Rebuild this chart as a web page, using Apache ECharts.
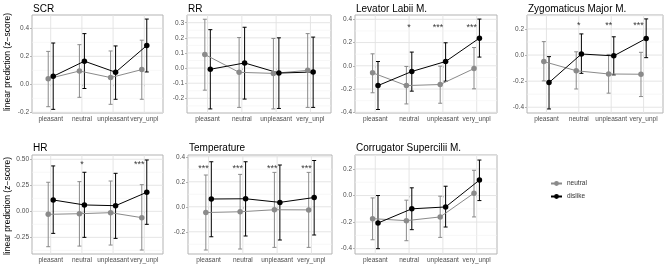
<!DOCTYPE html>
<html>
<head>
<meta charset="utf-8">
<script src="https://cdn.jsdelivr.net/npm/echarts@6/dist/echarts.min.js"></script>
<style>
html, body { margin: 0; padding: 0; background: #fff; }
#main { width: 669px; height: 266px; }
</style>
</head>
<body>
<div id="main"></div>
<script>
var conditions = ['pleasant', 'neutral', 'unpleasant', 'very_unpl'];

// [mean, lower, upper] for each condition
var scrNeutral = [[0.040, -0.160, 0.235], [0.095, -0.093, 0.283], [0.048, -0.143, 0.238], [0.105, -0.107, 0.315]];
var scrDislike = [[0.057, -0.179, 0.295], [0.165, -0.030, 0.362], [0.086, -0.107, 0.274], [0.277, 0.088, 0.466]];
var rrNeutral = [[0.090, -0.146, 0.323], [-0.028, -0.260, 0.202], [-0.035, -0.270, 0.196], [-0.015, -0.260, 0.228]];
var rrDislike = [[-0.008, -0.270, 0.254], [0.034, -0.205, 0.270], [-0.033, -0.267, 0.200], [-0.026, -0.260, 0.205]];
var levNeutral = [[-0.060, -0.232, 0.103], [-0.170, -0.328, -0.006], [-0.161, -0.322, -0.003], [-0.024, -0.198, 0.157]];
var levDislike = [[-0.170, -0.376, 0.037], [-0.049, -0.218, 0.118], [0.037, -0.132, 0.198], [0.238, 0.075, 0.402]];
var zygNeutral = [[-0.050, -0.198, 0.103], [-0.120, -0.260, 0.025], [-0.145, -0.292, 0.005], [-0.147, -0.318, 0.021]];
var zygDislike = [[-0.211, -0.413, -0.012], [0.008, -0.140, 0.162], [-0.006, -0.152, 0.140], [0.127, -0.020, 0.277]];
var hrNeutral = [[-0.029, -0.340, 0.279], [-0.023, -0.334, 0.285], [-0.013, -0.324, 0.291], [-0.061, -0.372, 0.256]];
var hrDislike = [[0.109, -0.212, 0.436], [0.061, -0.250, 0.375], [0.054, -0.260, 0.365], [0.183, -0.125, 0.493]];
var tempNeutral = [[-0.046, -0.346, 0.254], [-0.040, -0.338, 0.259], [-0.024, -0.325, 0.275], [-0.025, -0.325, 0.275]];
var tempDislike = [[0.062, -0.240, 0.360], [0.064, -0.234, 0.360], [0.035, -0.266, 0.334], [0.074, -0.226, 0.370]];
var corNeutral = [[-0.174, -0.333, -0.018], [-0.189, -0.340, -0.035], [-0.161, -0.315, -0.005], [0.018, -0.161, 0.190]];
var corDislike = [[-0.207, -0.400, 0.000], [-0.100, -0.257, 0.058], [-0.086, -0.237, 0.070], [0.116, -0.038, 0.267]];

// significance marks
var levStars = ['', '*', '***', '***'];
var zygStars = ['', '*', '**', '***'];
var hrStars = ['', '*', '', '***'];
var tempStars = ['***', '***', '***', '***'];

// y tick labels
var scrTicks = [-0.2, 0, 0.2, 0.4];
var rrTicks = [-0.2, -0.1, 0, 0.1, 0.2, 0.3];
var levTicks = [-0.4, -0.2, 0, 0.2, 0.4];
var zygTicks = [-0.4, -0.2, 0, 0.2];
var hrTicks = [-0.25, 0, 0.25, 0.5];
var tempTicks = [-0.2, 0, 0.2, 0.4];
var corTicks = [-0.4, -0.2, 0, 0.2];

var panels = [
    { title: 'SCR', neutral: scrNeutral, dislike: scrDislike, ticks: scrTicks, dec: 1, stars: null, starY: 0 },
    { title: 'RR', neutral: rrNeutral, dislike: rrDislike, ticks: rrTicks, dec: 1, stars: null, starY: 0 },
    { title: 'Levator Labii M.', neutral: levNeutral, dislike: levDislike, ticks: levTicks, dec: 1, stars: levStars, starY: 0.34 },
    { title: 'Zygomaticus Major M.', neutral: zygNeutral, dislike: zygDislike, ticks: zygTicks, dec: 1, stars: zygStars, starY: 0.238 },
    { title: 'HR', neutral: hrNeutral, dislike: hrDislike, ticks: hrTicks, dec: 2, stars: hrStars, starY: 0.46 },
    { title: 'Temperature', neutral: tempNeutral, dislike: tempDislike, ticks: tempTicks, dec: 1, stars: tempStars, starY: 0.315 },
    { title: 'Corrugator Supercilii M.', neutral: corNeutral, dislike: corDislike, ticks: corTicks, dec: 1, stars: null, starY: 0 }
];

// layout: [left, top, width, height], y range, title y
var layout = [
    { box: [32, 15, 131, 98], range: [-0.205, 0.495], titleY: 9.5 },
    { box: [187, 15, 144, 98], range: [-0.297, 0.351], titleY: 9.5 },
    { box: [355, 15, 142, 98], range: [-0.406, 0.437], titleY: 9.5 },
    { box: [527, 15, 136, 98], range: [-0.444, 0.307], titleY: 9.5 },
    { box: [32, 155, 131, 99], range: [-0.41, 0.541], titleY: 148 },
    { box: [188, 155, 144, 99], range: [-0.378, 0.414], titleY: 148 },
    { box: [355, 155, 142, 99], range: [-0.44, 0.305], titleY: 148 }
];

var FONT = "'Liberation Sans', Arial, sans-serif";
var GRAY = '#8a8a8a';
var BLACK = '#000000';
var DODGE = 0.08;
var xTicks = [1, 2, 3, 4];

function gridLineItem(params, api) {
    var cs = params.coordSys;
    var kind = api.value(0), v = api.value(1), major = api.value(2);
    var shape;
    if (kind === 0) {
        var x = api.coord([v, 0])[0];
        shape = { x1: x, y1: cs.y, x2: x, y2: cs.y + cs.height };
    } else {
        var y = api.coord([1, v])[1];
        shape = { x1: cs.x, y1: y, x2: cs.x + cs.width, y2: y };
    }
    return {
        type: 'line', shape: shape,
        style: { stroke: major ? '#e2e2e2' : '#f1f1f1', lineWidth: major ? 0.9 : 0.6 }
    };
}

function errorBarItem(color) {
    return function (params, api) {
        var x = api.value(0);
        var t = api.coord([x, api.value(2)]);
        var b = api.coord([x, api.value(1)]);
        var w = 2;
        var st = { stroke: color, lineWidth: 1 };
        return {
            type: 'group',
            children: [
                { type: 'line', shape: { x1: t[0], y1: t[1], x2: b[0], y2: b[1] }, style: st },
                { type: 'line', shape: { x1: t[0] - w, y1: t[1], x2: t[0] + w, y2: t[1] }, style: st },
                { type: 'line', shape: { x1: b[0] - w, y1: b[1], x2: b[0] + w, y2: b[1] }, style: st }
            ]
        };
    };
}

var grids = [], xAxes = [], yAxes = [], series = [], graphics = [];

panels.forEach(function (p, i) {
    var L = layout[i];
    grids.push({
        left: L.box[0], top: L.box[1], width: L.box[2], height: L.box[3],
        show: true, borderColor: '#b3b3b3', borderWidth: 1, backgroundColor: '#fff'
    });
    xAxes.push({
        gridIndex: i, type: 'value', min: 0.4, max: 4.6,
        axisLine: { show: false }, splitLine: { show: false },
        axisTick: { show: true, customValues: xTicks, length: 2, lineStyle: { color: '#b3b3b3' } },
        axisLabel: {
            customValues: xTicks, margin: 3, fontSize: 6.5, color: '#4d4d4d', fontFamily: FONT,
            formatter: function (v) { return conditions[Math.round(v) - 1]; }
        }
    });
    yAxes.push({
        gridIndex: i, type: 'value', min: L.range[0], max: L.range[1],
        axisLine: { show: false }, splitLine: { show: false },
        axisTick: { show: true, customValues: p.ticks, length: 2, lineStyle: { color: '#b3b3b3' } },
        axisLabel: {
            customValues: p.ticks, margin: 3, fontSize: 6.5, color: '#4d4d4d', fontFamily: FONT,
            formatter: function (v) { return v.toFixed(p.dec); }
        }
    });

    // panel grid lines (major at ticks, minor half way)
    var gl = [];
    xTicks.forEach(function (v) { gl.push([0, v, 1]); });
    p.ticks.forEach(function (v) { gl.push([1, v, 1]); });
    var step = p.ticks[1] - p.ticks[0];
    for (var m = p.ticks[0] - step / 2; m < L.range[1]; m += step) {
        if (m > L.range[0]) gl.push([1, m, 0]);
    }
    series.push({
        type: 'custom', xAxisIndex: i, yAxisIndex: i, z: 1, silent: true,
        renderItem: gridLineItem, data: gl
    });

    [['neutral', p.neutral, GRAY, -DODGE], ['dislike', p.dislike, BLACK, DODGE]].forEach(function (s) {
        series.push({
            type: 'custom', name: s[0] + ' err', xAxisIndex: i, yAxisIndex: i, z: 2, silent: true,
            renderItem: errorBarItem(s[2]),
            encode: { x: 0, y: [1, 2] },
            data: s[1].map(function (d, k) { return [k + 1 + s[3], d[1], d[2]]; })
        });
    });
    [['neutral', p.neutral, GRAY, -DODGE], ['dislike', p.dislike, BLACK, DODGE]].forEach(function (s) {
        series.push({
            type: 'line', name: s[0], xAxisIndex: i, yAxisIndex: i, z: 3,
            symbol: 'circle', symbolSize: 5.5,
            itemStyle: { color: s[2] },
            lineStyle: { color: s[2], width: 1 },
            data: s[1].map(function (d, k) { return [k + 1 + s[3], d[0]]; })
        });
    });

    if (p.stars) {
        var sd = [];
        p.stars.forEach(function (t, k) {
            if (t) sd.push({
                name: t, value: [k + 1, p.starY],
                label: { offset: [-(t.length - 1) * 2.5, 1.5] }
            });
        });
        series.push({
            type: 'scatter', xAxisIndex: i, yAxisIndex: i, z: 4, silent: true,
            symbolSize: 0, data: sd,
            label: { show: true, position: 'inside', formatter: '{b}', fontSize: 9, color: '#000', fontFamily: FONT }
        });
    }

    graphics.push({
        type: 'text', x: L.box[0] + 1, y: L.titleY,
        style: { text: p.title, fontSize: 10, fill: '#000', fontFamily: FONT, align: 'left', verticalAlign: 'middle' }
    });
});

[62, 206].forEach(function (cy) {
    graphics.push({
        type: 'text', x: 7.5, y: cy, rotation: Math.PI / 2,
        style: { text: 'linear prediction (z\u2212score)', fontSize: 8.5, fill: '#000', fontFamily: FONT, align: 'center', verticalAlign: 'middle' }
    });
});

var myChart = echarts.init(document.getElementById('main'));
var option = {
    backgroundColor: '#fff',
    animation: false,
    legend: {
        data: ['neutral', 'dislike'],
        orient: 'vertical', left: 545, top: 175,
        itemWidth: 11, itemHeight: 6, itemGap: 6,
        selectedMode: false,
        textStyle: { fontSize: 6.5, color: '#333', fontFamily: FONT }
    },
    grid: grids,
    xAxis: xAxes,
    yAxis: yAxes,
    graphic: graphics,
    series: series
};
myChart.setOption(option);

window.onresize = function () {
    myChart.resize();
};
</script>
</body>
</html>
